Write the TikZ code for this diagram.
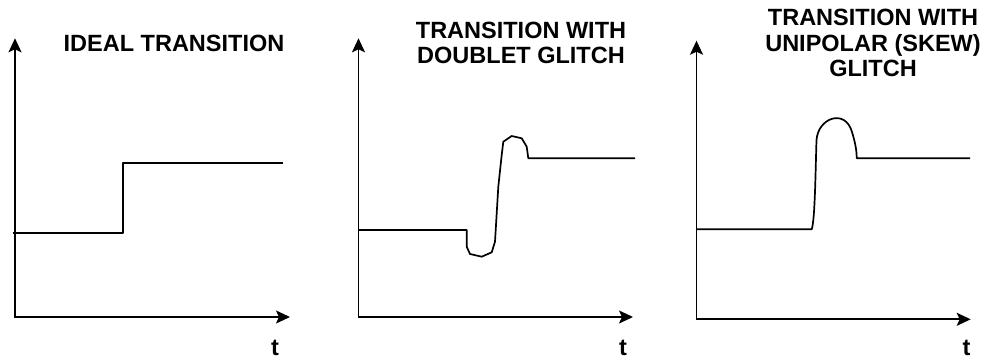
\documentclass[tikz,border=0pt]{standalone}
\usepackage{fontspec}
\setmainfont{Liberation Sans}
\usetikzlibrary{arrows.meta}

\begin{document}
\begin{tikzpicture}[x=1pt,y=-1pt,
  axis/.style={line width=1.7pt,{Stealth[length=14pt,width=13pt,inset=3pt]}-{Stealth[length=14pt,width=13pt,inset=3pt]}},
  wave/.style={line width=1.7pt,line join=round},
  title/.style={inner sep=0pt,anchor=base,align=center,font=\fontsize{23.5}{25.3}\selectfont\bfseries},
  tlabel/.style={inner sep=0pt,anchor=base,font=\fontsize{23.5}{25.3}\selectfont\bfseries}]
  \useasboundingbox (0,0) rectangle (984,358);
  % ideal
  \coordinate (y1) at (15,38.3);
  \coordinate (x1) at (290,317);
  \draw[axis] (y1) |- (x1);
  \draw[wave] (12.7,232.7) -- (123.3,232.7) -- (123.3,162.7) -- (283.3,162.7);
  \node[title] (h1) at (174,52) {IDEAL TRANSITION};
  \node[tlabel] (t1) at (275,355) {t};
  % doublet
  \coordinate (y2) at (358.5,38.3);
  \coordinate (x2) at (633,317);
  \draw[axis] (y2) |- (x2);
  \draw[wave] (358.5,230) -- (466.7,230) -- (466.7,246.7) -- (470,254) -- (481.7,256.7)
    -- (491.7,252.3) -- (495,241.7) -- (498.3,186.7) -- (501.7,155) -- (503.3,141.7)
    -- (511.7,136) -- (521.7,138.3) -- (526.7,146.7) -- (528.3,158.3) -- (635,158.3);
  \node[title] (h2) at (521,63.7) {TRANSITION WITH\\DOUBLET GLITCH};
  \node[tlabel] (t2) at (623,355) {t};
  % unipolar
  \coordinate (y3) at (696.5,40.7);
  \coordinate (x3) at (970.7,319.3);
  \draw[axis] (y3) |- (x3);
  \draw[wave] (696.5,229.3) -- (811.7,229.3)
    .. controls (815,220) and (815.5,170) .. (816.5,140)
    .. controls (818,118) and (845,108) .. (852,132)
    .. controls (855,142) and (856.7,150) .. (856.7,158.3) -- (970,158.3);
  \node[title] (h3) at (873,76.6) {TRANSITION WITH\\UNIPOLAR (SKEW)\\GLITCH};
  \node[tlabel] (t3) at (966.5,355) {t};
\end{tikzpicture}
\end{document}
